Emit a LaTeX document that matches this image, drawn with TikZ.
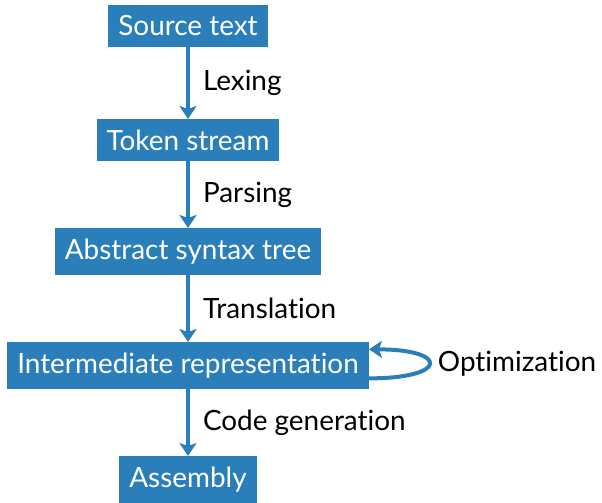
\documentclass[tikz,border=0pt]{standalone}
\usepackage{fontspec}
\setmainfont{Lato}[Ligatures=NoCommon]
\usetikzlibrary{arrows.meta}
\definecolor{boxblue}{HTML}{2A7FBA}
\tikzset{
  stagebox/.style={fill=boxblue, text=white, inner xsep=10bp, inner ysep=10.5bp, anchor=north, font=\fontsize{28}{32}\selectfont},
  flowarrow/.style={draw=boxblue, line width=4bp, -{Stealth[length=13bp, width=17bp, inset=3bp]}},
  steplabel/.style={anchor=west, inner sep=0pt, xshift=13bp, text=black, font=\fontsize{28}{32}\selectfont}
}
\begin{document}
\begin{tikzpicture}[x=1bp,y=-1bp]
\useasboundingbox (0,0) rectangle (602,503);
\node[stagebox] (src) at (188,5) {Source text};
\node[stagebox] (tok) at (188,119) {Token stream};
\node[stagebox] (ast) at (188,228) {Abstract syntax tree};
\node[stagebox] (ir) at (188,342) {Intermediate representation};
\node[stagebox] (asm) at (188,456) {Assembly};
\draw[flowarrow] (src) -- node[steplabel, midway] {Lexing} (tok);
\draw[flowarrow] (tok) -- node[steplabel, midway] {Parsing} (ast);
\draw[flowarrow] (ast) -- node[steplabel, midway] {Translation} (ir);
\draw[flowarrow] (ir) -- node[steplabel, midway] {Code generation} (asm);
\draw[flowarrow] ([yshift=-13bp]ir.east) to[out=0, in=0, distance=80bp] node[steplabel, pos=0.5, xshift=-6bp] {Optimization} ([yshift=16bp]ir.east);
\end{tikzpicture}
\end{document}
